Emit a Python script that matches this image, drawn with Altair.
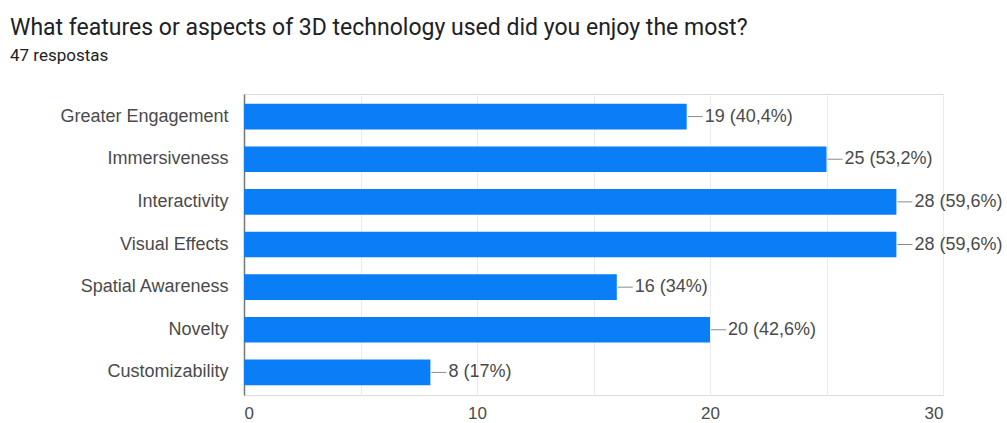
import altair as alt
import pandas as pd

categories = ["Greater Engagement", "Immersiveness", "Interactivity", "Visual Effects",
              "Spatial Awareness", "Novelty", "Customizability"]
counts = [19, 25, 28, 28, 16, 20, 8]
labels = ["19 (40,4%)", "25 (53,2%)", "28 (59,6%)", "28 (59,6%)", "16 (34%)", "20 (42,6%)", "8 (17%)"]
x_ticks = [0, 5, 10, 15, 20, 25, 30]

df = pd.DataFrame({"cat": categories, "n": counts, "label": labels})

y = alt.Y("cat:N", sort=categories, title=None,
          scale=alt.Scale(paddingInner=0.4, paddingOuter=0.23),
          axis=alt.Axis(labelFont="Liberation Sans", labelFontSize=18, labelColor="#4a4a4a",
                        labelPadding=16, ticks=False, domainColor="#777777", domainWidth=1.5,
                        labelLimit=300))
x = alt.X("n:Q", title=None, scale=alt.Scale(domain=[0, 30], nice=False),
          axis=alt.Axis(values=x_ticks, labelExpr="datum.value % 10 == 0 ? datum.label : ''",
                        labelFont="Liberation Sans", labelFontSize=17, labelColor="#4a4a4a",
                        labelPadding=10, ticks=False, domain=False,
                        gridColor="#ebebeb", gridWidth=1))

bars = alt.Chart(df).mark_bar(color="#0a7ef6").encode(x=x, y=y)
leader = alt.Chart(df).mark_rule(color="#8a8a8a", strokeWidth=1, xOffset=1, x2Offset=16).encode(
    x="n:Q", x2="n:Q", y=alt.Y("cat:N", sort=categories, bandPosition=0.5))
text = alt.Chart(df).mark_text(align="left", baseline="middle", dx=18, font="Liberation Sans",
                               fontSize=18, color="#4a4a4a").encode(
    x="n:Q", y=alt.Y("cat:N", sort=categories, bandPosition=0.5), text="label:N")

chart = alt.layer(bars, leader, text).properties(
    width=699, height=301,
    autosize=alt.AutoSizeParams(type="none"),
    padding={"left": 244, "top": 94, "right": 64, "bottom": 28},
    title=alt.TitleParams(text="What features or aspects of 3D technology used did you enjoy the most?",
                          subtitle="47 respostas", anchor="start", frame="group", dx=-234,
                          font="Roboto", fontSize=23, fontWeight="normal", color="#202124",
                          subtitleFont="Roboto", subtitleFontSize=17, subtitleColor="#202124",
                          subtitlePadding=8, offset=30)
).configure_view(stroke="#ebebeb", strokeWidth=1).configure(background="white")

chart.save("out.html", embed_options={"renderer": "svg", "actions": False})
